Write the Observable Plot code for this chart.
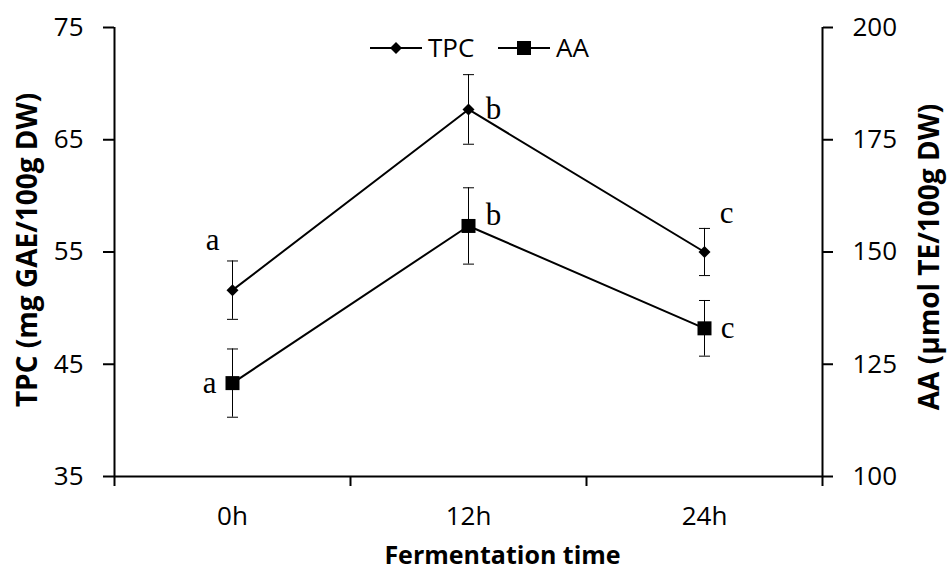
<!DOCTYPE html>
<html>
<head>
<meta charset="utf-8">
<script src="https://cdn.jsdelivr.net/npm/d3@7"></script>
<script src="https://cdn.jsdelivr.net/npm/@observablehq/plot@0.6"></script>
<style>
  html, body { margin: 0; padding: 0; background: #fff; }
  #wrap { position: relative; width: 947px; height: 571px; font-family: "Open Sans", sans-serif; color: #000; }
  #legend { position: absolute; left: 366px; top: 28px; overflow: visible; }
</style>
</head>
<body>
<div id="wrap">
  <div id="chart"></div>
  <svg id="legend" width="260" height="40"></svg>
</div>
<script>
const times = ["0h", "12h", "24h"];
const tpc = [51.6, 67.7, 55.0];
const tpcErr = [2.6, 3.1, 2.1];
const aa = [120.8, 155.8, 133.0];
const aaErr = [7.6, 8.5, 6.2];
const tpcLetters = ["a", "b", "c"];
const aaLetters = ["a", "b", "c"];
const leftTicks = [35, 45, 55, 65, 75];
const rightTicks = [100, 125, 150, 175, 200];
const leftDomain = [35, 75];
const rightDomain = [100, 200];

// map AA values onto the left (TPC) axis range
const toLeft = v => leftDomain[0] + (v - rightDomain[0]) * (leftDomain[1] - leftDomain[0]) / (rightDomain[1] - rightDomain[0]);
const toRight = v => rightDomain[0] + (v - leftDomain[0]) * (rightDomain[1] - rightDomain[0]) / (leftDomain[1] - leftDomain[0]);

const idx = times.map((_, i) => i);
const xc = i => i + 0.5;

const cap = { draw(ctx) { ctx.moveTo(-5.5, 0); ctx.lineTo(5.5, 0); } };

// letter placements (pixel offsets from each point)
const tpcLetterOff = [[-20, -50], [25, 0], [22, -39]];
const aaLetterOff = [[-23, 0], [25, -11], [23, 0]];

const letterMarks = [];
idx.forEach(i => {
  letterMarks.push(Plot.text([i], {x: xc, y: j => tpc[j], text: j => tpcLetters[j],
    dx: tpcLetterOff[i][0], dy: tpcLetterOff[i][1], fontFamily: "Liberation Serif", fontSize: 31, fill: "black"}));
  letterMarks.push(Plot.text([i], {x: xc, y: j => toLeft(aa[j]), text: j => aaLetters[j],
    dx: aaLetterOff[i][0], dy: aaLetterOff[i][1], fontFamily: "Liberation Serif", fontSize: 31, fill: "black"}));
});

const chart = Plot.plot({
  width: 947,
  height: 571,
  marginLeft: 114,
  marginRight: 125,
  marginTop: 27,
  marginBottom: 95,
  style: {fontFamily: "Open Sans", fontSize: "26px", color: "black", background: "white", overflow: "visible"},
  x: {domain: [0, times.length], axis: null},
  y: {domain: leftDomain, axis: null},
  marks: [
    // axes
    Plot.axisY({anchor: "left", ticks: leftTicks, tickSize: 11, tickPadding: 20, strokeWidth: 2, label: null, fontSize: 26}),
    Plot.axisY({anchor: "right", ticks: rightTicks.map(toLeft), tickFormat: d => Math.round(toRight(d)), tickSize: 10, tickPadding: 20, strokeWidth: 2, label: null, fontSize: 26, textAnchor: "start"}),
    Plot.axisX({ticks: d3.range(times.length + 1), tickFormat: () => "", tickSize: 10, strokeWidth: 2, label: null}),
    Plot.axisX({ticks: idx.map(xc), tickFormat: d => times[Math.floor(d)], tickSize: 0, tickPadding: 30, label: null, fontSize: 26}),
    Plot.ruleX([0, times.length], {stroke: "black", strokeWidth: 2}),
    Plot.ruleY([leftDomain[0]], {stroke: "black", strokeWidth: 2}),
    // axis titles
    Plot.text(["Fermentation time"], {frameAnchor: "bottom", lineAnchor: "middle", dx: 34, dy: 79, fontWeight: "bold", fontSize: 25, fill: "black"}),
    Plot.text(["TPC (mg GAE/100g DW)"], {frameAnchor: "left", textAnchor: "middle", lineAnchor: "middle", rotate: -90, dx: -86, dy: -2, fontWeight: "bold", fontSize: 28, fill: "black"}),
    Plot.text(["AA (µmol TE/100g DW)"], {frameAnchor: "right", textAnchor: "middle", lineAnchor: "middle", rotate: -90, dx: 108, dy: 5, fontWeight: "bold", fontSize: 28, fill: "black"}),
    // error bars
    Plot.ruleX(idx, {x: xc, y1: i => tpc[i] - tpcErr[i], y2: i => tpc[i] + tpcErr[i], stroke: "black", strokeWidth: 1}),
    Plot.dot(idx, {x: xc, y: i => tpc[i] - tpcErr[i], symbol: cap, stroke: "black", strokeWidth: 1, fill: "none"}),
    Plot.dot(idx, {x: xc, y: i => tpc[i] + tpcErr[i], symbol: cap, stroke: "black", strokeWidth: 1, fill: "none"}),
    Plot.ruleX(idx, {x: xc, y1: i => toLeft(aa[i] - aaErr[i]), y2: i => toLeft(aa[i] + aaErr[i]), stroke: "black", strokeWidth: 1}),
    Plot.dot(idx, {x: xc, y: i => toLeft(aa[i] - aaErr[i]), symbol: cap, stroke: "black", strokeWidth: 1, fill: "none"}),
    Plot.dot(idx, {x: xc, y: i => toLeft(aa[i] + aaErr[i]), symbol: cap, stroke: "black", strokeWidth: 1, fill: "none"}),
    // lines
    Plot.line(idx, {x: xc, y: i => tpc[i], stroke: "black", strokeWidth: 2}),
    Plot.line(idx, {x: xc, y: i => toLeft(aa[i]), stroke: "black", strokeWidth: 2}),
    // markers
    Plot.dot(idx, {x: xc, y: i => tpc[i], symbol: "diamond2", r: 5.4, fill: "black", stroke: "none"}),
    Plot.dot(idx, {x: xc, y: i => toLeft(aa[i]), symbol: "square", r: 7.9, fill: "black", stroke: "none"}),
    ...letterMarks
  ]
});
document.getElementById("chart").appendChild(chart);

// legend
const lg = d3.select("#legend");
const items = [{name: "TPC", sym: d3.symbolDiamond2, size: 92, x: 4}, {name: "AA", sym: d3.symbolSquare, size: 196, x: 132}];
items.forEach(it => {
  const g = lg.append("g").attr("transform", `translate(${it.x},20)`);
  g.append("line").attr("x1", 0).attr("x2", 52).attr("y1", 0).attr("y2", 0).attr("stroke", "black").attr("stroke-width", 2);
  g.append("path").attr("d", d3.symbol(it.sym, it.size)()).attr("transform", "translate(26,0)").attr("fill", "black");
  g.append("text").attr("x", 58).attr("y", 0).attr("dy", "0.35em").attr("font-family", "Open Sans").attr("font-size", 26).attr("fill", "black").text(it.name);
});
</script>
</body>
</html>
